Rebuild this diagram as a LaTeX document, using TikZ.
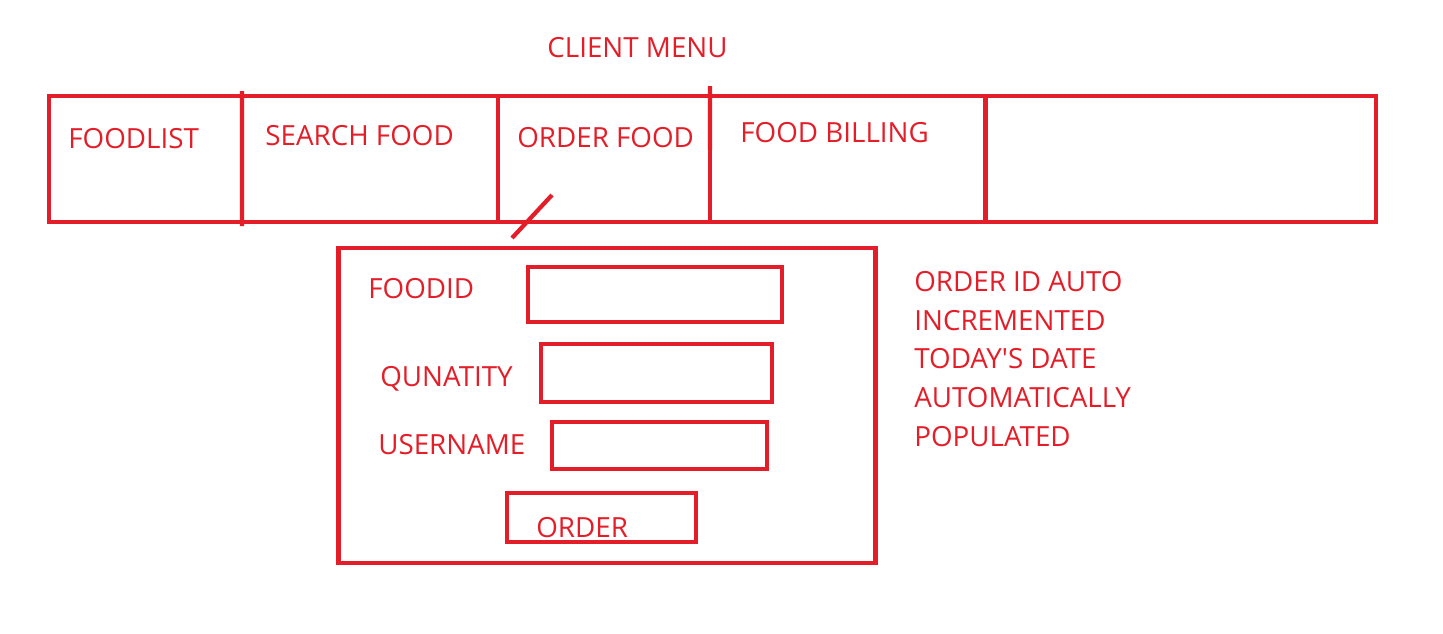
\documentclass[tikz,border=0pt]{standalone}
\usepackage{fontspec}
\setmainfont{Open Sans}
\usetikzlibrary{positioning}
\definecolor{penred}{RGB}{227,30,40}

\begin{document}
\begin{tikzpicture}[x=0.02cm,y=-0.02cm]
        \tikzset{box/.style= {draw=penred, line width=2.8pt, rectangle, inner sep=0pt},
        lbl/.style= {text=penred, font=\fontsize{15.8}{22}\selectfont, anchor=west, inner sep=0pt, text depth=0pt},
        }
        \useasboundingbox (0,0) rectangle (1443,633);

        % menu bar
        \node [box, minimum width=3.86cm, minimum height=2.52cm] (cellA) at (145.5,159) {};
        \node [box, minimum width=5.12cm, minimum height=2.52cm] (cellB) at (370,159) {};
        \node [box, minimum width=4.24cm, minimum height=2.52cm] (cellC) at (604,159) {};
        \node [box, minimum width=5.5cm, minimum height=2.52cm] (cellD) at (847.5,159) {};
        \node [box, minimum width=7.82cm, minimum height=2.52cm] (cellE) at (1180.5,159) {};

        \node [lbl] (menu) at (547,47) {CLIENT MENU};
        \node [lbl] (foodlist) at (68,138) {FOODLIST};
        \node [lbl] (search) at (265,135) {SEARCH FOOD};
        \node [lbl] (orderfood) at (517,137) {ORDER FOOD};
        \node [lbl] (billing) at (740,132) {FOOD BILLING};

        % order form
        \node [box, minimum width=10.76cm, minimum height=6.3cm] (form) at (607,405.5) {};

        \node [lbl] (foodid) at (368,288) {FOODID};
        \node [lbl] (qty) at (380,376) {QUNATITY};
        \node [lbl] (user) at (378,444) {USERNAME};

        \node [box, minimum width=5.08cm, minimum height=1.1cm] (fidbox) at (655,294.5) {};
        \node [box, minimum width=4.62cm, minimum height=1.16cm] (qtybox) at (656.5,373) {};
        \node [box, minimum width=4.3cm, minimum height=0.94cm] (userbox) at (659.5,445.5) {};

        \node [box, minimum width=3.78cm, minimum height=0.98cm] (orderbtn) at (601.5,517.5) {};
        \node [lbl] (ordertxt) at (536,527) {ORDER};

        \node [lbl, anchor=north west, align=left] (note) at (914,271)
            {ORDER ID AUTO\\INCREMENTED\\TODAY\textquotesingle S DATE\\AUTOMATICALLY\\POPULATED};

        % divider stubs and link
        \coordinate (stubB) at (242,91);
        \coordinate (stubBlow) at (242,226);
        \coordinate (stubD) at (710,86);
        \coordinate (stubDlow) at (710,150);
        \coordinate (linkA) at (512,238);
        \coordinate (linkB) at (552,195);

        \path[draw=penred, line width=2.4pt]
            (stubB) -- (stubBlow)
            (stubD) -- (stubDlow)
            (linkA) -- (linkB)
                    ;
    \end{tikzpicture}
\end{document}
